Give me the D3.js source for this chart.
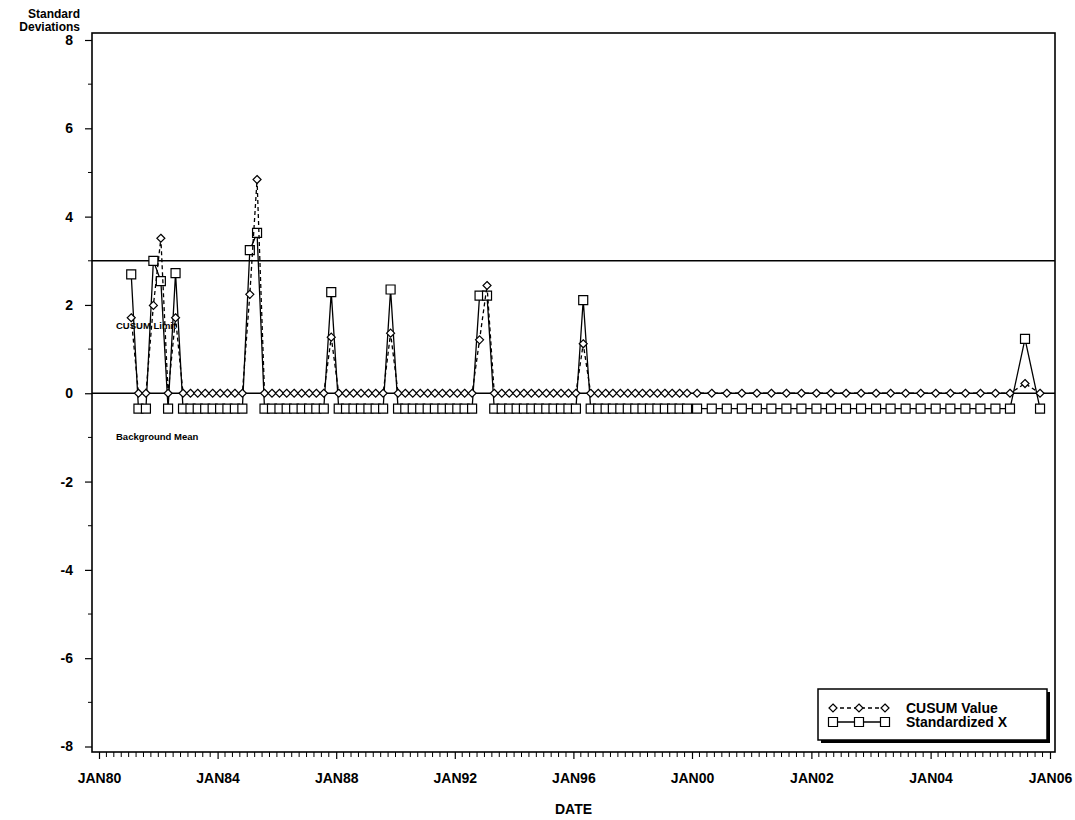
<!DOCTYPE html>
<html>
<head>
<meta charset="UTF-8">
<title>CUSUM chart</title>
<script src="https://d3js.org/d3.v7.min.js"></script>
<style>
    body {
        margin: 0;
        background: #fff;
    }
    text {
        font-family: "Liberation Sans", Arial, sans-serif;
        font-weight: bold;
        fill: #000;
    }
</style>
</head>
<body>
<script>
    // sample dates, one per quarter
    var dates = [
        "1981-02", "1981-05", "1981-08", "1981-11", "1982-02", "1982-05", "1982-08", "1982-11",
        "1983-02", "1983-05", "1983-08", "1983-11", "1984-02", "1984-05", "1984-08", "1984-11",
        "1985-02", "1985-05", "1985-08", "1985-11", "1986-02", "1986-05", "1986-08", "1986-11",
        "1987-02", "1987-05", "1987-08", "1987-11", "1988-02", "1988-05", "1988-08", "1988-11",
        "1989-02", "1989-05", "1989-08", "1989-11", "1990-02", "1990-05", "1990-08", "1990-11",
        "1991-02", "1991-05", "1991-08", "1991-11", "1992-02", "1992-05", "1992-08", "1992-11",
        "1993-02", "1993-05", "1993-08", "1993-11", "1994-02", "1994-05", "1994-08", "1994-11",
        "1995-02", "1995-05", "1995-08", "1995-11", "1996-02", "1996-05", "1996-08", "1996-11",
        "1997-02", "1997-05", "1997-08", "1997-11", "1998-02", "1998-05", "1998-08", "1998-11",
        "1999-02", "1999-05", "1999-08", "1999-11", "2000-02", "2000-05", "2000-08", "2000-11",
        "2001-02", "2001-05", "2001-08", "2001-11", "2002-02", "2002-05", "2002-08", "2002-11",
        "2003-02", "2003-05", "2003-08", "2003-11", "2004-02", "2004-05", "2004-08", "2004-11",
        "2005-02", "2005-05", "2005-08", "2005-11"
    ];

    var cusumValue = [
        1.71, 0, 0, 1.99, 3.51, 0, 1.71, 0, 0, 0,
        0, 0, 0, 0, 0, 0, 2.24, 4.84, 0, 0,
        0, 0, 0, 0, 0, 0, 0, 1.27, 0, 0,
        0, 0, 0, 0, 0, 1.36, 0, 0, 0, 0,
        0, 0, 0, 0, 0, 0, 0, 1.21, 2.44, 0,
        0, 0, 0, 0, 0, 0, 0, 0, 0, 0,
        0, 1.12, 0, 0, 0, 0, 0, 0, 0, 0,
        0, 0, 0, 0, 0, 0, 0, 0, 0, 0,
        0, 0, 0, 0, 0, 0, 0, 0, 0, 0,
        0, 0, 0, 0, 0, 0, 0, 0, 0.22, 0
    ];

    var standardizedX = [
        2.69, -0.35, -0.35, 3.00, 2.54, -0.35, 2.72, -0.35, -0.35, -0.35,
        -0.35, -0.35, -0.35, -0.35, -0.35, -0.35, 3.24, 3.63, -0.35, -0.35,
        -0.35, -0.35, -0.35, -0.35, -0.35, -0.35, -0.35, 2.29, -0.35, -0.35,
        -0.35, -0.35, -0.35, -0.35, -0.35, 2.35, -0.35, -0.35, -0.35, -0.35,
        -0.35, -0.35, -0.35, -0.35, -0.35, -0.35, -0.35, 2.21, 2.21, -0.35,
        -0.35, -0.35, -0.35, -0.35, -0.35, -0.35, -0.35, -0.35, -0.35, -0.35,
        -0.35, 2.11, -0.35, -0.35, -0.35, -0.35, -0.35, -0.35, -0.35, -0.35,
        -0.35, -0.35, -0.35, -0.35, -0.35, -0.35, -0.35, -0.35, -0.35, -0.35,
        -0.35, -0.35, -0.35, -0.35, -0.35, -0.35, -0.35, -0.35, -0.35, -0.35,
        -0.35, -0.35, -0.35, -0.35, -0.35, -0.35, -0.35, -0.35, 1.23, -0.35
    ];

    var tickDates = ["1980-01", "1984-01", "1988-01", "1992-01", "1996-01", "2000-01", "2002-01", "2004-01", "2006-01"];
    var tickLabels = ["JAN80", "JAN84", "JAN88", "JAN92", "JAN96", "JAN00", "JAN02", "JAN04", "JAN06"];
    var yTicks = [-8, -6, -4, -2, 0, 2, 4, 6, 8];
    var cusumLimit = 3, backgroundMean = 0;

    const width = 1075, height = 820;
    const frame = {left: 92, right: 1055, top: 33, bottom: 752};
    const parse = d3.timeParse("%Y-%m");

    // the axis runs 4 years per label up to 2000, then 2 years per label
    const x = d3.scaleTime()
        .domain([parse("1980-01"), parse("2000-01"), parse("2006-01")])
        .range([99, 692, 1050]);
    const y = d3.scaleLinear().domain([-8, 8]).range([746.5, 40]);

    const data = dates.map((d, i) => ({date: parse(d), cusum: cusumValue[i], stdx: standardizedX[i]}));

    const svg = d3.select("body").append("svg").attr("width", width).attr("height", height);

    // frame
    svg.append("rect")
        .attr("x", frame.left).attr("y", frame.top)
        .attr("width", frame.right - frame.left).attr("height", frame.bottom - frame.top)
        .attr("fill", "none").attr("stroke", "#000").attr("stroke-width", 1.6);

    // y axis
    const yAxis = svg.append("g").attr("transform", `translate(${frame.left},0)`)
        .call(d3.axisLeft(y).tickValues(yTicks).tickSize(7).tickPadding(12).tickFormat(d => String(d)));
    yAxis.select(".domain").remove();
    yAxis.selectAll("text").attr("font-size", 14).style("font-family", "'Liberation Sans', Arial, sans-serif").style("font-weight", "bold");
    yAxis.selectAll("line").attr("stroke-width", 1.2);
    svg.append("g").selectAll("line")
        .data(d3.range(-7, 8, 2))
        .join("line")
        .attr("x1", frame.left - 4).attr("x2", frame.left)
        .attr("y1", d => y(d)).attr("y2", d => y(d))
        .attr("stroke", "#000").attr("stroke-width", 1);

    svg.append("text").attr("x", 80).attr("y", 18).attr("text-anchor", "end").attr("font-size", 12).text("Standard");
    svg.append("text").attr("x", 80).attr("y", 31).attr("text-anchor", "end").attr("font-size", 12).text("Deviations");

    // x axis
    const tickDateObjs = tickDates.map(parse);
    const xAxis = svg.append("g").attr("transform", `translate(0,${frame.bottom})`)
        .call(d3.axisBottom(x).tickValues(tickDateObjs).tickSize(7).tickPadding(14)
            .tickFormat((d, i) => tickLabels[i]));
    xAxis.select(".domain").remove();
    xAxis.selectAll("text").attr("font-size", 14).style("font-family", "'Liberation Sans', Arial, sans-serif").style("font-weight", "bold");
    xAxis.selectAll("line").attr("stroke-width", 1.2);

    // 15 minor ticks between each pair of labels
    const minor = [];
    for (let i = 0; i < tickDateObjs.length - 1; i++) {
        const a = x(tickDateObjs[i]), b = x(tickDateObjs[i + 1]);
        for (let j = 1; j < 16; j++) minor.push(a + (b - a) * j / 16);
    }
    svg.append("g").selectAll("line")
        .data(minor)
        .join("line")
        .attr("x1", d => d).attr("x2", d => d)
        .attr("y1", frame.bottom).attr("y2", frame.bottom + 5)
        .attr("stroke", "#000").attr("stroke-width", 1);

    svg.append("text").attr("x", (frame.left + frame.right) / 2).attr("y", 814)
        .attr("text-anchor", "middle").attr("font-size", 14).text("DATE");

    // reference lines
    [cusumLimit, backgroundMean].forEach(v => {
        svg.append("line")
            .attr("x1", frame.left).attr("x2", frame.right)
            .attr("y1", y(v)).attr("y2", y(v))
            .attr("stroke", "#000").attr("stroke-width", 1.6);
    });
    svg.append("text").attr("x", 116).attr("y", y(1.45)).attr("font-size", 9.5).text("CUSUM Limit");
    svg.append("text").attr("x", 116).attr("y", y(-1.05)).attr("font-size", 9.5).text("Background Mean");

    const diamond = "M0,-4L4,0L0,4L-4,0Z";
    const square = "M-4.5,-4.5H4.5V4.5H-4.5Z";

    // standardized X: solid line with squares
    svg.append("path")
        .datum(data)
        .attr("fill", "none").attr("stroke", "#000").attr("stroke-width", 1.3)
        .attr("d", d3.line().x(d => x(d.date)).y(d => y(d.stdx)));
    svg.append("g").selectAll("path")
        .data(data)
        .join("path")
        .attr("transform", d => `translate(${x(d.date)},${y(d.stdx)})`)
        .attr("d", square)
        .attr("fill", "#fff").attr("stroke", "#000").attr("stroke-width", 1.2);

    // CUSUM: dashed line with diamonds
    svg.append("path")
        .datum(data)
        .attr("fill", "none").attr("stroke", "#000").attr("stroke-width", 1.3)
        .attr("stroke-dasharray", "4,3")
        .attr("d", d3.line().x(d => x(d.date)).y(d => y(d.cusum)));
    svg.append("g").selectAll("path")
        .data(data)
        .join("path")
        .attr("transform", d => `translate(${x(d.date)},${y(d.cusum)})`)
        .attr("d", diamond)
        .attr("fill", "#fff").attr("stroke", "#000").attr("stroke-width", 1.2);

    // legend
    const lg = svg.append("g");
    lg.append("rect").attr("x", 821).attr("y", 692).attr("width", 229).attr("height", 51).attr("fill", "#000");
    lg.append("rect").attr("x", 818).attr("y", 689).attr("width", 229).attr("height", 51)
        .attr("fill", "#fff").attr("stroke", "#000").attr("stroke-width", 1.5);

    const legendRows = [
        {label: "CUSUM Value", shape: diamond, dash: "4,3", cy: 708},
        {label: "Standardized X", shape: square, dash: null, cy: 722}
    ];
    const markerX = [833, 859, 885];
    legendRows.forEach(r => {
        lg.append("line").attr("x1", markerX[0]).attr("x2", markerX[2])
            .attr("y1", r.cy).attr("y2", r.cy)
            .attr("stroke", "#000").attr("stroke-width", 1.3)
            .attr("stroke-dasharray", r.dash);
        markerX.forEach(mx => {
            lg.append("path").attr("transform", `translate(${mx},${r.cy})`)
                .attr("d", r.shape)
                .attr("fill", "#fff").attr("stroke", "#000").attr("stroke-width", 1.2);
        });
        lg.append("text").attr("x", 906).attr("y", r.cy + 5).attr("font-size", 14).text(r.label);
    });
</script>
</body>
</html>
